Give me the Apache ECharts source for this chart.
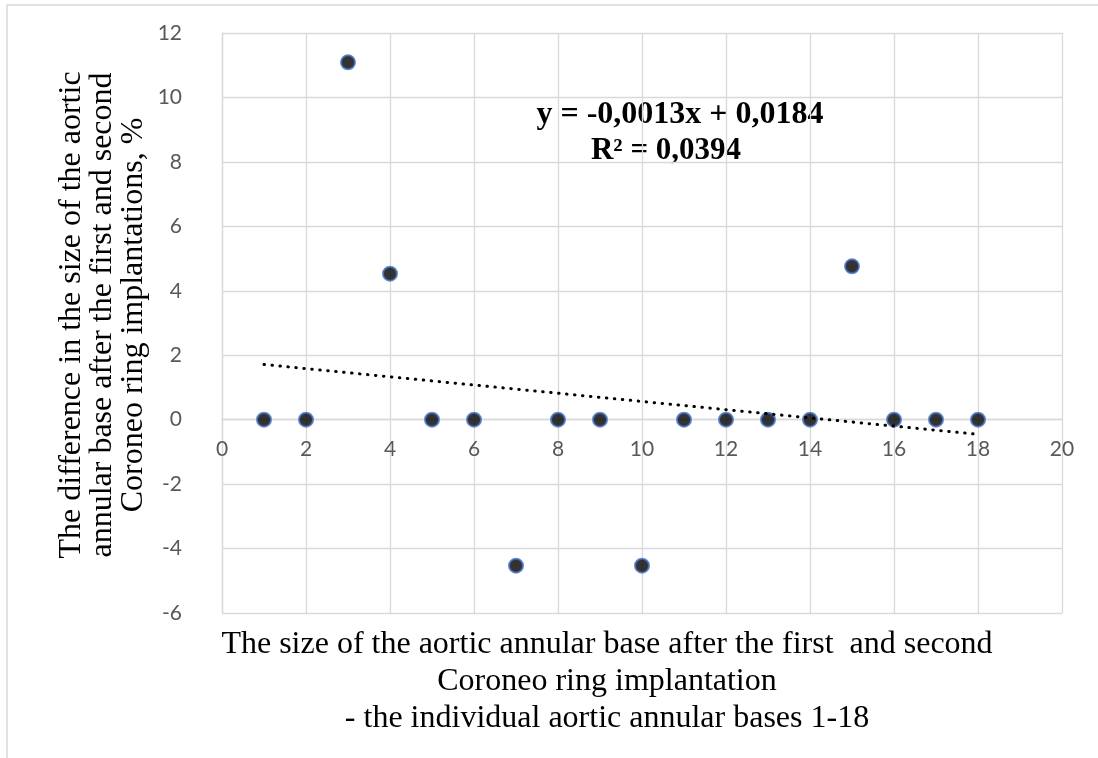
<!DOCTYPE html>
<html>
<head>
<meta charset="utf-8">
<title>Aortic annular base difference</title>
<script src="https://cdn.jsdelivr.net/npm/echarts@6/dist/echarts.min.js"></script>
<style>
  html, body { margin: 0; padding: 0; background: #fff; }
  #chart { width: 1098px; height: 758px; }
</style>
</head>
<body>
<div id="chart"></div>
<script>
// individual aortic annular bases 1-18
const baseIds = [1, 2, 3, 4, 5, 6, 7, 8, 9, 10, 11, 12, 13, 14, 15, 16, 17, 18];
// difference after first and second ring implantation, %
const diffPct = [0, 0, 11.09, 4.53, 0, 0, -4.53, 0, 0, -4.53, 0, 0, 0, 0, 4.76, 0, 0, 0];

const xTicks = { min: 0, max: 20, interval: 2 };
const yTicks = { min: -6, max: 12, interval: 2 };

const eqLine1 = 'y = -0,0013x + 0,0184';
const eqLine2 = 'R² = 0,0394';
const xTitle = 'The size of the aortic annular base after the first  and second\nCoroneo ring implantation\n- the individual aortic annular bases 1-18';
const yTitle = 'The difference in the size of the aortic\nannular base after the first and second\nCoroneo ring implantations, %';

// least squares trendline through the points
function linearFit(xs, ys) {
  let n = xs.length, mx = 0, my = 0;
  for (let i = 0; i < n; i++) { mx += xs[i]; my += ys[i]; }
  mx /= n; my /= n;
  let sxy = 0, sxx = 0;
  for (let i = 0; i < n; i++) {
    sxy += (xs[i] - mx) * (ys[i] - my);
    sxx += (xs[i] - mx) * (xs[i] - mx);
  }
  let k = sxy / sxx;
  return { k: k, b: my - k * mx };
}
const fit = linearFit(baseIds, diffPct);
const xFirst = baseIds[0], xLast = baseIds[baseIds.length - 1];
const trendData = [[xFirst, fit.k * xFirst + fit.b], [xLast, fit.k * xLast + fit.b]];

const gridColor = '#d9d9d9';
const labelStyle = { color: '#595959', fontSize: 21, fontFamily: 'Lato' };

// x axis sits where y = 0 (Excel style), lift it up from the grid bottom
const grid = { left: 222, right: 36, top: 33, bottom: 145 };
const plotH = 758 - grid.top - grid.bottom;
const zeroLift = plotH * (0 - yTicks.min) / (yTicks.max - yTicks.min);

let chart = echarts.init(document.getElementById('chart'));
let option = {
  animation: false,
  backgroundColor: '#fff',
  grid: grid,
  xAxis: {
    type: 'value',
    min: xTicks.min, max: xTicks.max, interval: xTicks.interval,
    offset: -zeroLift,
    axisLine: { show: true, onZero: false, lineStyle: { color: gridColor, width: 1.3 } },
    axisTick: { show: false },
    splitLine: { show: true, lineStyle: { color: gridColor, width: 1.3 } },
    axisLabel: Object.assign({ margin: 19 }, labelStyle)
  },
  yAxis: {
    type: 'value',
    min: yTicks.min, max: yTicks.max, interval: yTicks.interval,
    axisLine: { show: true, onZero: false, lineStyle: { color: gridColor, width: 1.3 } },
    axisTick: { show: false },
    splitLine: { show: true, lineStyle: { color: gridColor, width: 1.3 } },
    axisLabel: Object.assign({ margin: 40 }, labelStyle)
  },
  series: [
    {
      name: 'difference',
      type: 'scatter',
      symbol: 'circle',
      symbolSize: 14,
      itemStyle: { color: '#000', borderColor: '#4472c4', borderWidth: 2 },
      data: baseIds.map((x, i) => [x, diffPct[i]]),
      z: 3
    },
    {
      name: 'trend',
      type: 'line',
      showSymbol: false,
      symbol: 'none',
      silent: true,
      lineStyle: { color: '#000', width: 3, type: [0.5, 7.5], cap: 'round' },
      data: trendData,
      z: 4
    }
  ],
  graphic: [
    {
      type: 'rect',
      shape: { x: 7, y: 5, width: 1300, height: 900 },
      style: { fill: 'none', stroke: gridColor, lineWidth: 1.5 },
      silent: true, z: -1
    },
    {
      type: 'text', x: 680, y: 115,
      style: { text: eqLine1, fill: '#000', font: 'bold 32px "Liberation Serif"', align: 'center', verticalAlign: 'middle', textAlign: 'center', textVerticalAlign: 'middle' }
    },
    {
      type: 'text', x: 666, y: 151,
      style: { text: eqLine2, fill: '#000', font: 'bold 31px "Liberation Serif"', align: 'center', verticalAlign: 'middle', textAlign: 'center', textVerticalAlign: 'middle' }
    },
    {
      type: 'text', x: 607, y: 682,
      style: { text: xTitle, fill: '#000', font: '32px "Liberation Serif"', lineHeight: 37, align: 'center', verticalAlign: 'middle', textAlign: 'center', textVerticalAlign: 'middle' }
    },
    {
      type: 'text', x: 103, y: 315, rotation: Math.PI / 2,
      style: { text: yTitle, fill: '#000', font: '32px "Liberation Serif"', lineHeight: 31, align: 'center', verticalAlign: 'middle', textAlign: 'center', textVerticalAlign: 'middle' }
    }
  ]
};
chart.setOption(option);
</script>
</body>
</html>
